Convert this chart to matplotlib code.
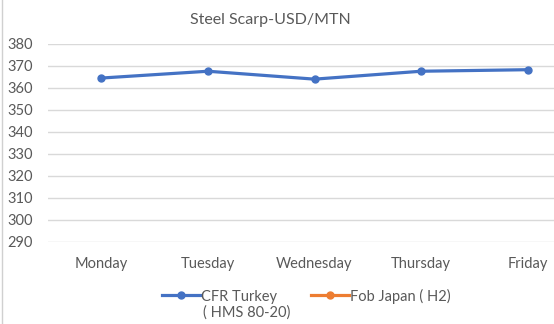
import numpy as np
import matplotlib
matplotlib.use("Agg")
from matplotlib import pyplot as plt

plt.rcParams['font.family'] = ['Lato', 'DejaVu Sans']

days = ["Monday", "Tuesday", "Wednesday", "Thursday", "Friday"]
cfr_turkey = [364.5, 367.6, 364.0, 367.6, 368.3]
fob_japan = [np.nan, np.nan, np.nan, np.nan, np.nan]
y_ticks = [290, 300, 310, 320, 330, 340, 350, 360, 370, 380]

fig = plt.figure(figsize=(5.54, 3.24), dpi=100)
ax = fig.add_axes([48 / 554, 1 - 241.7 / 324, 533 / 554, (241.7 - 44) / 324])

x = np.arange(len(days))
ax.plot(x, cfr_turkey, color="#4472C4", lw=2.3, marker="o", ms=5,
        label="CFR Turkey", zorder=3)
ax.plot(x, fob_japan, color="#ED7D31", lw=2.3, marker="o", ms=5,
        label="Fob Japan ( H2)", zorder=3)

ax.set_xlim(-0.5, len(days) - 0.5)
ax.set_ylim(290, 380)
ax.set_yticks(y_ticks)
ax.set_xticks(x)
ax.set_xticklabels(days)
ax.grid(axis="y", color="#D9D9D9", lw=1)
ax.set_axisbelow(True)
for s in ax.spines.values():
    s.set_visible(False)
ax.tick_params(length=0, labelsize=10.5, colors="#595959")
ax.tick_params(axis="x", pad=11)
ax.tick_params(axis="y", pad=11)

fig.text(270 / 554, 1 - 20 / 324, "Steel Scarp-USD/MTN", ha="center", va="center",
         fontsize=11.5, color="#595959")

leg = fig.legend(loc="center left", bbox_to_anchor=(162 / 554, 1 - 296 / 324), ncol=2,
                 frameon=False, fontsize=10.5, handlelength=2.6, columnspacing=2.35,
                 handletextpad=0.05, borderaxespad=0, borderpad=0)
for t in leg.get_texts():
    t.set_color("#595959")
# second line of the first legend entry
fig.text(203 / 554, 1 - 313 / 324, "( HMS 80-20)", ha="left", va="center",
         fontsize=10.5, color="#595959")

# light border on the left edge
fig.add_artist(plt.Line2D([2 / 554, 2 / 554], [0, 1], color="#D0D0D0", lw=1))

fig.savefig("out.png", dpi=100)
